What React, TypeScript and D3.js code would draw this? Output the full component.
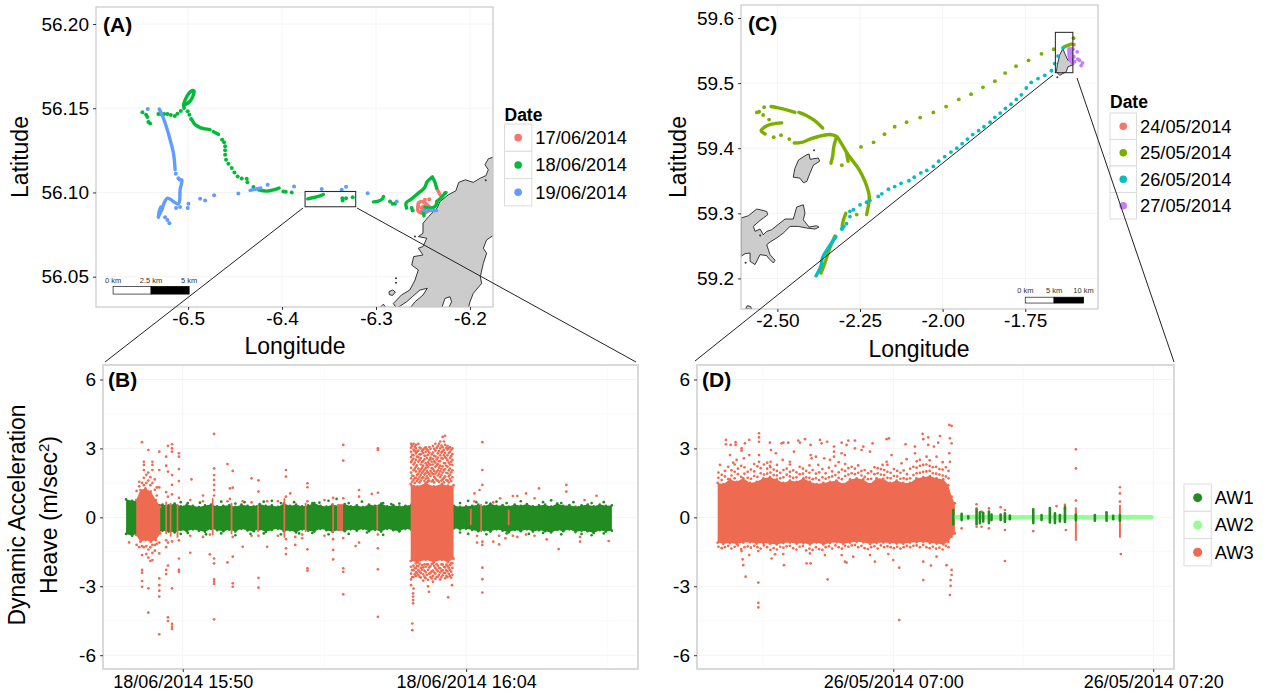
// Tracks and heave panels, D3 drawn through a ref
import React, { useEffect, useRef } from 'react'
import * as d3 from 'd3'

const FONT = '"Liberation Sans", Arial, sans-serif'

// ---- panel A: track of 17-19/06/2014, [lon, lat]
const datesA = ['17/06/2014', '18/06/2014', '19/06/2014']
const coloursA = ['#F8766D', '#00BA38', '#619CFF']
const runsA = [
  [
    [[-6.2355, 56.1026], [-6.2319, 56.0986]],
    [[-6.255, 56.0937], [-6.255, 56.0887], [-6.2479, 56.0877], [-6.2426, 56.0907], [-6.2514, 56.0946], [-6.255, 56.0937]],
  ],
  [
    [[-6.505, 56.1516], [-6.5032, 56.1548], [-6.4996, 56.1585], [-6.495, 56.1605], [-6.4936, 56.1601], [-6.495, 56.1571], [-6.4982, 56.154], [-6.5032, 56.152]],
    [[-6.4961, 56.1433], [-6.4926, 56.1403], [-6.4872, 56.1385], [-6.4819, 56.1377], [-6.4766, 56.1373]],
    [[-6.473, 56.1361], [-6.4677, 56.1345]],
    [[-6.4252, 56.1016], [-6.4163, 56.1008], [-6.4085, 56.1016], [-6.4032, 56.1026]],
    [[-6.3727, 56.0962], [-6.366, 56.097], [-6.3596, 56.098], [-6.356, 56.0988]],
    [[-6.3028, 56.0944], [-6.2975, 56.0948], [-6.2929, 56.0964], [-6.2922, 56.0976]],
    [[-6.2674, 56.0907], [-6.2681, 56.0937], [-6.2621, 56.0962], [-6.255, 56.0996], [-6.2486, 56.1026], [-6.2454, 56.1065], [-6.2401, 56.1091]],
    [[-6.2355, 56.0946], [-6.2312, 56.0966], [-6.2255, 56.1]],
    [[-6.2479, 56.0913], [-6.2426, 56.0907], [-6.2372, 56.0917], [-6.2348, 56.0946]],
    [[-6.2497, 56.0887], [-6.2489, 56.0861]],
    [[-6.2401, 56.1091], [-6.2372, 56.106], [-6.2355, 56.1026]],
  ],
  [
    [[-6.5308, 56.1496], [-6.527, 56.1452], [-6.5227, 56.1383], [-6.5191, 56.1313], [-6.5156, 56.1234], [-6.5138, 56.1135]],
    [[-6.5092, 56.1075], [-6.5067, 56.1075], [-6.5085, 56.1016], [-6.5103, 56.0933], [-6.522, 56.0966], [-6.5255, 56.0937], [-6.528, 56.0897], [-6.5316, 56.0857]],
    [[-6.5291, 56.0913], [-6.5305, 56.0893], [-6.5316, 56.0853]],
    [[-6.434, 56.1012], [-6.428, 56.102], [-6.4227, 56.1026]],
    [[-6.2497, 56.0893], [-6.2355, 56.0893]],
  ],
]
const pointsA = [
  [[-6.2479, 56.0956], [-6.2433, 56.096], [-6.255, 56.0917], [-6.2514, 56.0907], [-6.2479, 56.0897], [-6.2426, 56.0897], [-6.2514, 56.0887], [-6.2497, 56.0917]],
  [
    [-6.5486, 56.1476], [-6.5447, 56.1462], [-6.5433, 56.1448], [-6.5422, 56.1419], [-6.5404, 56.1409],
    [-6.5316, 56.1466], [-6.5287, 56.1464], [-6.5255, 56.1466], [-6.522, 56.1466], [-6.5184, 56.146],
    [-6.5142, 56.1454], [-6.5113, 56.1468], [-6.5078, 56.1484], [-6.5043, 56.1502], [-6.5004, 56.1482],
    [-6.4986, 56.1462], [-6.4968, 56.1436], [-6.4638, 56.1313], [-6.4617, 56.1298], [-6.4606, 56.1274],
    [-6.4606, 56.125], [-6.4606, 56.1224], [-6.4596, 56.1194], [-6.4571, 56.1171], [-6.4535, 56.1145],
    [-6.4507, 56.1119], [-6.4472, 56.1095], [-6.4429, 56.1083], [-6.4376, 56.1081], [-6.4369, 56.106],
    [-6.4305, 56.1032], [-6.3986, 56.1006], [-6.3961, 56.1004], [-6.3897, 56.1], [-6.3358, 56.0966],
    [-6.3355, 56.0952], [-6.3319, 56.0966], [-6.3248, 56.0972], [-6.2851, 56.0946], [-6.2823, 56.0933],
    [-6.2798, 56.0933], [-6.2621, 56.0907], [-6.261, 56.0893], [-6.2266, 56.0996],
  ],
  [
    [-6.5429, 56.1496], [-6.5131, 56.1111], [-6.5103, 56.1085], [-6.5128, 56.0907], [-6.5085, 56.0913],
    [-6.5004, 56.0907], [-6.4996, 56.0933], [-6.4872, 56.0962], [-6.4819, 56.0952], [-6.4723, 56.0984],
    [-6.4465, 56.0994], [-6.4153, 56.1046], [-6.3872, 56.1036], [-6.3578, 56.102], [-6.3365, 56.1016],
    [-6.3319, 56.1034], [-6.3089, 56.0996], [-6.278, 56.0946], [-6.5245, 56.0853], [-6.522, 56.0837], [-6.5199, 56.0817],
  ],
]
const landA = [
  [-6.175, 56.121], [-6.1805, 56.12], [-6.184, 56.1165], [-6.1805, 56.1135], [-6.183, 56.11], [-6.189, 56.1085],
  [-6.1965, 56.106], [-6.205, 56.1075], [-6.212, 56.106], [-6.215, 56.101], [-6.223, 56.0986], [-6.232, 56.0946],
  [-6.235, 56.0907], [-6.244, 56.0857], [-6.25, 56.0817], [-6.25, 56.0758], [-6.255, 56.0738], [-6.246, 56.0728],
  [-6.25, 56.0679], [-6.255, 56.0669], [-6.25, 56.0629], [-6.26, 56.0619], [-6.262, 56.0569], [-6.255, 56.054],
  [-6.2585, 56.048], [-6.264, 56.0421], [-6.273, 56.0391], [-6.2816, 56.0341], [-6.278, 56.0312], [-6.2674, 56.0351],
  [-6.2532, 56.0421], [-6.2454, 56.0431], [-6.25, 56.0391], [-6.2585, 56.0351], [-6.264, 56.0312], [-6.2302, 56.0312],
  [-6.2266, 56.0371], [-6.2213, 56.0381], [-6.2195, 56.0351], [-6.223, 56.0312], [-6.2018, 56.0312], [-6.2, 56.0351],
  [-6.1965, 56.0401], [-6.1876, 56.046], [-6.189, 56.05], [-6.1858, 56.0579], [-6.1823, 56.0639], [-6.1858, 56.0669],
  [-6.1823, 56.0718], [-6.1745, 56.0748],
]
const isletsA = [
  [[-6.2862, 56.0411], [-6.2823, 56.0421], [-6.2794, 56.0409], [-6.2823, 56.0389], [-6.2858, 56.0393]],
  [[-6.295, 56.0321], [-6.2922, 56.0337], [-6.2901, 56.0321], [-6.2922, 56.031]],
]
const rocksA = [[-6.2787, 56.049], [-6.2787, 56.0464], [-6.2585, 56.0738], [-6.1833, 56.1073]]
const boxA = [[-6.3755, 56.1006], [-6.3216, 56.0915]]
const scaleA = { lons: [-6.5798, -6.5394, -6.4989], lat: 56.0419, labels: ['0 km', '2.5 km', '5 km'] }

// ---- panel C: track of 24-27/05/2014, [lon, lat]
const datesC = ['24/05/2014', '25/05/2014', '26/05/2014', '27/05/2014']
const coloursC = ['#F8766D', '#7CAE00', '#00BFC4', '#C77CFF']
const runsC = [
  [],
  [
    [[-2.519, 59.464], [-2.497, 59.462], [-2.472, 59.459], [-2.447, 59.455]],
    [[-2.435, 59.455], [-2.411, 59.45], [-2.386, 59.442], [-2.363, 59.431]],
    [[-2.449, 59.408], [-2.426, 59.409], [-2.401, 59.414], [-2.376, 59.418], [-2.341, 59.421], [-2.321, 59.418], [-2.306, 59.407], [-2.286, 59.39], [-2.255, 59.369], [-2.235, 59.349], [-2.222, 59.326], [-2.225, 59.311], [-2.23, 59.298]],
    [[-2.321, 59.417], [-2.329, 59.403], [-2.333, 59.387], [-2.338, 59.377]],
    [[-2.487, 59.439], [-2.517, 59.437], [-2.537, 59.433], [-2.549, 59.427], [-2.537, 59.422]],
    [[-2.291, 59.393], [-2.286, 59.38]],
    [[-2.326, 59.265], [-2.341, 59.247], [-2.356, 59.224], [-2.368, 59.208]],
    [[-2.293, 59.3], [-2.301, 59.288], [-2.304, 59.28]],
    [[-1.631, 59.556], [-1.611, 59.56]],
  ],
  [
    [[-2.306, 59.276], [-2.298, 59.28]],
    [[-2.323, 59.264], [-2.346, 59.247], [-2.364, 59.231], [-2.368, 59.219], [-2.383, 59.204]],
  ],
  [
    [[-1.618, 59.553], [-1.616, 59.538], [-1.606, 59.53]],
    [[-1.611, 59.553], [-1.609, 59.5405]],
  ],
]
const pointsC = [
  [[-1.603, 59.559]],
  [
    [-2.562, 59.455], [-2.555, 59.456], [-2.54, 59.463], [-2.543, 59.451], [-2.525, 59.444], [-2.511, 59.417],
    [-2.489, 59.42], [-2.464, 59.414], [-2.247, 59.402], [-2.209, 59.409], [-2.176, 59.4215], [-2.145, 59.433],
    [-2.109, 59.44], [-2.068, 59.447], [-2.028, 59.455], [-1.9895, 59.464], [-1.951, 59.475], [-1.914, 59.483],
    [-1.878, 59.4935], [-1.842, 59.503], [-1.811, 59.5155], [-1.778, 59.526], [-1.74, 59.535], [-1.701, 59.545],
    [-1.664, 59.552], [-2.305, 59.374], [-2.26, 59.298], [-1.604, 59.569],
  ],
  [
    [-1.671, 59.519], [-1.691, 59.512], [-1.7115, 59.507], [-1.732, 59.501], [-1.747, 59.4925], [-1.762, 59.482],
    [-1.777, 59.475], [-1.793, 59.4675], [-1.81, 59.461], [-1.826, 59.454], [-1.842, 59.4475], [-1.8565, 59.44],
    [-1.875, 59.433], [-1.891, 59.427], [-1.909, 59.421], [-1.925, 59.414], [-1.941, 59.407], [-1.957, 59.4],
    [-1.975, 59.394], [-1.9935, 59.387], [-2.012, 59.38], [-2.028, 59.372], [-2.048, 59.366], [-2.066, 59.362],
    [-2.086, 59.3555], [-2.102, 59.35], [-2.126, 59.346], [-2.145, 59.341], [-2.164, 59.337], [-2.184, 59.33],
    [-2.195, 59.326], [-2.22, 59.32], [-2.23, 59.317], [-2.25, 59.313], [-2.27, 59.3055], [-2.2805, 59.303],
    [-2.2805, 59.295], [-2.291, 59.284], [-2.304, 59.276], [-1.661, 59.53], [-1.651, 59.5415], [-1.636, 59.554],
  ],
  [
    [-1.606, 59.552], [-1.593, 59.548], [-1.603, 59.5405], [-1.591, 59.537], [-1.586, 59.535], [-1.577, 59.531],
    [-1.581, 59.527], [-1.601, 59.533], [-1.613, 59.548],
  ],
]
const landC = [
  [
    [-1.636, 59.553], [-1.631, 59.546], [-1.621, 59.535], [-1.606, 59.5405], [-1.606, 59.528], [-1.621, 59.525],
    [-1.626, 59.5175], [-1.646, 59.512], [-1.656, 59.5175], [-1.653, 59.528], [-1.646, 59.543],
  ],
  [
    [-2.436, 59.382], [-2.411, 59.39], [-2.404, 59.391], [-2.401, 59.383], [-2.376, 59.385], [-2.372, 59.38],
    [-2.391, 59.374], [-2.401, 59.362], [-2.411, 59.349], [-2.421, 59.347], [-2.432, 59.354], [-2.452, 59.3555],
    [-2.447, 59.369],
  ],
  [
    [-2.61, 59.2927], [-2.5876, 59.2963], [-2.5624, 59.3065], [-2.5524, 59.3055], [-2.5322, 59.3029], [-2.5292, 59.2978],
    [-2.5423, 59.2927], [-2.5524, 59.2891], [-2.5725, 59.2799], [-2.5675, 59.2723], [-2.5524, 59.2758], [-2.5423, 59.2671],
    [-2.5322, 59.2723], [-2.5171, 59.2748], [-2.4768, 59.2912], [-2.4517, 59.2912], [-2.4416, 59.3096], [-2.4215, 59.3131],
    [-2.4164, 59.3004], [-2.4215, 59.2901], [-2.4043, 59.2789], [-2.3812, 59.2809], [-2.3741, 59.2789], [-2.3862, 59.2758],
    [-2.4114, 59.2774], [-2.4366, 59.2799], [-2.4617, 59.2799], [-2.4819, 59.2697], [-2.502, 59.262], [-2.5191, 59.2569],
    [-2.5322, 59.2518], [-2.5222, 59.2365], [-2.507, 59.2278], [-2.5121, 59.2237], [-2.5272, 59.2314], [-2.5322, 59.235],
    [-2.5524, 59.2365], [-2.5675, 59.2212], [-2.5826, 59.2263], [-2.5826, 59.239], [-2.5977, 59.238], [-2.61, 59.2339],
  ],
  [[-2.596, 59.153], [-2.591, 59.158], [-2.581, 59.157], [-2.578, 59.153]],
]
const rocksC = [[-2.389, 59.397], [-2.596, 59.224], [-2.552, 59.266], [-1.653, 59.509]]
const boxC = [[-1.659, 59.578], [-1.606, 59.516]]
const scaleC = { lons: [-1.75, -1.663, -1.574], lat: 59.1666, labels: ['0 km', '5 km', '10 km'] }

// ---- panel B: heave on 18/06/2014, time in minutes of the day
const tickTimesB = [950, 964]
const tickLabelsB = ['18/06/2014 15:50', '18/06/2014 16:04']
const minorTimesB = [957, 971]
const heaveTicks = [-6, -3, 0, 3, 6]
const heaveMinor = [-4.5, -1.5, 1.5, 4.5]
const aw1StartB = 947.2
const aw1StepB = 0.3
const aw1UpperB = [
  0.78, 0.72, 0.7, 0.62, 0.58, 0.6, 0.55, 0.52, 0.6, 0.48,
  0.55, 0.5, 0.45, 0.52, 0.56, 0.48, 0.5, 0.53, 0.46, 0.55,
  0.5, 0.48, 0.58, 0.5, 0.52, 0.46, 0.6, 0.5, 0.55, 0.48,
  0.52, 0.62, 0.5, 0.47, 0.55, 0.5, 0.58, 0.48, 0.52, 0.45,
  0.56, 0.5, 0.6, 0.48, 0.53, 0.47, 0.5, 0.55, 0.48, 0.52,
  0.45, 0.45, 0.48, 0.44, 0.5, 0.46, 0.48, 0.5, 0.55, 0.48,
  0.6, 0.5, 0.53, 0.47, 0.56, 0.5, 0.58, 0.48, 0.52, 0.55,
  0.47, 0.6, 0.5, 0.53, 0.46, 0.52, 0.55, 0.48, 0.56, 0.5, 0.52,
]
const aw1LowerB = [
  -0.72, -0.8, -0.68, -0.62, -0.6, -0.7, -0.58, -0.62, -0.66, -0.55,
  -0.6, -0.52, -0.58, -0.63, -0.5, -0.56, -0.6, -0.54, -0.62, -0.5,
  -0.57, -0.6, -0.52, -0.64, -0.55, -0.5, -0.6, -0.56, -0.66, -0.52,
  -0.58, -0.62, -0.5, -0.56, -0.63, -0.55, -0.6, -0.52, -0.58, -0.5,
  -0.6, -0.54, -0.62, -0.5, -0.56, -0.6, -0.5, -0.55, -0.48, -0.52,
  -0.48, -0.5, -0.46, -0.5, -0.48, -0.52, -0.5, -0.55, -0.6, -0.56,
  -0.62, -0.52, -0.58, -0.65, -0.55, -0.6, -0.52, -0.62, -0.56, -0.6,
  -0.66, -0.55, -0.6, -0.52, -0.64, -0.58, -0.6, -0.68, -0.56, -0.62, -0.58,
]
// AW1 points just off the band in B
const aw1StripsB = [
  [949.9, [0.66, -0.72]], [950.25, [0.62, -0.68]], [950.85, [0.64]], [951.15, [-0.74]], [951.9, [0.68, -0.7]], [952.6, [0.6, -0.78]],
  [953.05, [0.66]], [953.35, [-0.72]], [954.0, [0.68, -0.7]], [954.4, [0.72]], [954.85, [-0.74, 0.62]], [955.5, [0.66]],
  [955.75, [-0.7]], [956.4, [0.62, -0.68]], [956.75, [0.64]], [957.2, [0.72, -0.74]], [957.6, [0.8]], [958.2, [0.62, -0.72]],
  [958.85, [0.68]], [959.1, [-0.66]], [959.9, [0.62, -0.76]], [960.3, [0.58]], [960.7, [0.6, -0.6]], [963.7, [0.62, -0.66]],
  [964.1, [0.72, -0.72]], [964.5, [0.66]], [965.0, [-0.74, 0.64]], [965.5, [0.68]], [966.0, [0.62, -0.7]], [966.7, [0.7]],
  [967.1, [-0.72]], [967.8, [0.66, -0.68]], [968.2, [0.74]], [968.7, [0.62, -0.74]], [969.3, [0.66]], [969.7, [-0.72]],
  [970.2, [0.62, -0.78]], [970.8, [0.66, -0.7]],
]
// AW3 bursts in B as [t, top, bottom]
const aw3ColumnsB = [
  [949.18, 0.65, -0.7], [949.4, 0.6, -0.8], [949.74, 0.55, -0.85], [951.48, 0.8, -0.75], [952.41, 0.6, -0.7],
  [953.72, 0.5, -0.6], [955.02, 0.8, -0.85], [956.07, 0.6, -0.6], [957.43, 0.55, -0.65], [957.67, 0.55, -0.55],
  [957.77, 0.55, -0.55], [957.87, 0.55, -0.55], [959.61, 0.5, -0.5], [964.74, 0.55, -0.6], [964.23, 0.35, -0.3], [966.1, 0.3, -0.3],
]
const aw3CoreOneB = [
  [947.7, 0.75, -0.77], [947.91, 1.19, -1.06], [948.16, 1.26, -0.99], [948.42, 1.12, -1.06], [948.67, 0.75, -0.99], [948.89, 0.46, -0.7],
]
const aw3CoreTwoB = [
  [961.26, 1.45, -1.9], [961.6, 1.35, -1.95], [962, 1.48, -1.85], [962.4, 1.35, -1.95], [962.8, 1.45, -1.85], [963.1, 1.38, -1.95], [963.38, 1.4, -1.8],
]
const aw3StripsB = [
  [947.35, [-1.09]],
  [947.72, [1.15, -1.2]],
  [947.85, [1.55, 1.35, -1.3]],
  [947.99, [3.27, -1.64, -2.29, -2.41, -2.77, -3.02, 1.5, -1.25]],
  [948.08, [2.42, 2.28, 2.06, 1.72, 1.4, -1.3]],
  [948.2, [1.85, 1.5, -1.25, -1.6]],
  [948.3, [2.93, -3.09, -4.15, 1.95, 1.6, -1.4, -1.75]],
  [948.4, [1.75, 1.4, -1.3, -1.9]],
  [948.5, [2.42, 2.28, 2.06, -1.86, 1.5, -1.2, -1.55]],
  [948.62, [1.65, 1.2, -1.2, -1.45]],
  [948.72, [1.3, 0.95, -1.15]],
  [948.84, [2.86, 2.06, -1.57, -2.66, -2.95, -3.19, -3.45, -5.09, 1.3, -1.1]],
  [949.18, [2.64, 2.25, -2.29, -2.47, 1.1, -1.0, -1.3]],
  [949.27, [3.11, 1.99, -2.1, -4.35, -4.51, 0.9, -1.1]],
  [949.47, [3.18, 3, 2.86, 1.84, 1.41, -3.09, -4.64, -4.76, -4.86, 1.0, -1.05]],
  [949.81, [2.79, 2.64, 2.1, 1.58, -1.79, -2.29, -2.37, 0.85, -1.0]],
  [950.37, [-1.54, 0.75, -0.8]],
  [950.43, [1.65]],
  [951.0, [0.95, 0.7, -0.85]],
  [951.34, [-1.61, -0.75]],
  [951.55, [3.63, 2.13, 1.84, 1.63, 1.41, 1.19, -1.79, -2, -2.7, -2.8, -2.9, -4.44, 0.95]],
  [952.21, [2.32, -1.96, 0.7]],
  [952.33, [1.26, 0.8]],
  [952.47, [2.02, 1.29, -1.71, -2.87, -3.02, -0.85]],
  [952.96, [-1.28, 0.7]],
  [953.4, [1.7, 0.65, -0.8]],
  [953.74, [1.61, 1.12, -2.63, -3.06, -0.8]],
  [954.17, [-1.28, 0.7]],
  [954.7, [0.7, -0.8]],
  [955.1, [2.06, 1.77, -1.35, -1.6, 0.9, -0.95]],
  [955.31, [1.04]],
  [955.56, [-1.2, -0.85]],
  [955.9, [-0.91, -0.75]],
  [956.16, [1.48, 1.31, -1.39, -2.22, -2.32, 0.7]],
  [957.0, [0.75, -0.8]],
  [957.43, [-1.42, -1.83, 0.85, -0.95]],
  [957.93, [3.15, 2.47, 0.83, -2.22, -2.37, -3.35, -0.9]],
  [958.54, [-1.25]],
  [958.71, [1.19, 0.9, -1.1]],
  [959.34, [1.02]],
  [959.64, [3, 2.93, 1.07, -1.35, -2.26, -4.33, -0.75]],
  [961.34, [-4.62, -4.91]],
  [961.38, [-3.31, -3.45, -3.6, -3.74]],
  [962.16, [-3.24]],
  [963.11, [-3.48]],
  [963.3, [-2.95]],
  [964.41, [1.04, 0.7]],
  [964.54, [-1.1, -0.8]],
  [964.66, [1.19]],
  [964.8, [3.27, 2.06, 1.41, -1.06, -1.2, -2.19, -2.69, -3.27]],
  [965.34, [-1.06, 0.65]],
  [965.63, [-1.18, -0.8]],
  [965.68, [0.83]],
  [965.94, [-0.91]],
  [966.31, [0.93, -0.8]],
  [966.53, [0.93, -0.85]],
  [966.96, [1.04, -0.75]],
  [967.38, [0.83, -0.8]],
  [967.6, [1.26]],
  [967.98, [-0.96]],
  [968.57, [-1.38]],
  [968.95, [1.41, 1.12]],
  [969.63, [-1.06, -0.85]],
  [969.85, [0.75]],
  [970.44, [0.94]],
  [971.04, [-1.03]],
  // second burst, above and below its solid core
  [961.28, [3.2, 3.03, 2.85, 2.62, 2.4, 2.15, 1.95, 1.7, -2.15, -2.45, -2.7, -2.95]],
  [961.33, [3.12, 2.72, 2.48, 1.82, 1.55, -2.3, -2.6]],
  [961.4, [3.2, 2.95, 2.7, 2.55, 2.3, 2.05, 1.8, 1.62, -2.1, -2.3, -2.6, -3.1]],
  [961.46, [3.08, 2.88, 2.38, 2.12, 1.7, 1.5, -2.2, -2.48]],
  [961.52, [3.15, 3, 2.78, 2.5, 2.2, 2, 1.72, -2.0, -2.22, -2.38, -2.55]],
  [961.57, [2.86, 2.64, 2.26, 1.84, 1.58, -2.12, -2.42]],
  [961.64, [3.2, 2.9, 2.62, 2.42, 2.12, 1.9, 1.66, -2.12, -2.3, -2.5]],
  [961.7, [3.04, 2.74, 2.5, 2, 1.76, 1.52, -2.02, -2.36, -2.58]],
  [961.76, [3, 2.75, 2.58, 2.3, 2.08, 1.85, 1.6, -2.2, -2.42, -2.62]],
  [961.82, [2.88, 2.4, 2.16, 1.94, 1.7, -2.08, -2.28]],
  [961.88, [2.95, 2.8, 2.45, 2.25, 2, 1.75, -2.18, -2.48, -2.75]],
  [961.94, [3.0, 2.68, 2.52, 2.08, 1.86, 1.58, -2.05, -2.32, -2.58]],
  [962, [3.05, 2.85, 2.68, 2.35, 2.15, 1.92, 1.68, -2.15, -2.38, -2.65]],
  [962.06, [2.96, 2.58, 2.26, 2.02, 1.78, 1.52, -2.05, -2.5]],
  [962.12, [2.9, 2.72, 2.4, 2.18, 1.95, 1.7, 1.58, -2.05, -2.28, -2.72, -3]],
  [962.18, [3.06, 2.82, 2.5, 2.32, 1.88, 1.6, -2.18, -2.45]],
  [962.24, [2.98, 2.6, 2.52, 2.28, 2.02, 1.8, -2.12, -2.42, -2.6]],
  [962.3, [2.74, 2.42, 2.14, 1.94, 1.56, -2.02, -2.35, -2.66]],
  [962.36, [3.1, 2.82, 2.55, 2.3, 2.1, 1.88, 1.62, -2.02, -2.32, -2.55, -2.8]],
  [962.42, [2.98, 2.68, 2.44, 2.02, 1.76, 1.52, -2.12, -2.4]],
  [962.48, [3.2, 2.9, 2.65, 2.38, 2.2, 1.9, 1.7, -2.2, -2.45, -2.68]],
  [962.54, [3.02, 2.52, 2.26, 1.98, 1.62, -2.04, -2.28, -2.6]],
  [962.6, [3.1, 2.78, 2.6, 2.32, 2.05, 1.82, 1.6, -2.1, -2.35, -2.58]],
  [962.66, [3.2, 2.88, 2.44, 2.16, 1.9, 1.54, -2.2, -2.5]],
  [962.72, [3.3, 3, 2.7, 2.45, 2.25, 2, 1.75, -2.22, -2.4, -2.7]],
  [962.78, [3.12, 2.82, 2.58, 2.1, 1.84, 1.6, -2.05, -2.32, -2.6]],
  [962.84, [3.5, 3.05, 2.88, 2.55, 2.22, 1.95, 1.65, -2.05, -2.3, -2.52]],
  [962.9, [3.3, 2.94, 2.7, 2.36, 2.04, 1.72, 1.52, -2.15, -2.42]],
  [962.96, [3.55, 3.15, 2.8, 2.62, 2.35, 2.1, 1.78, -2.18, -2.42, -2.65]],
  [963.02, [3.02, 2.56, 2.24, 1.94, 1.62, -2.06, -2.3, -2.55]],
  [963.08, [3.1, 2.95, 2.7, 2.48, 2.2, 1.92, 1.6, -2.12, -2.35, -2.6]],
  [963.14, [3.0, 2.8, 2.38, 2.04, 1.78, 1.52, -2.2, -2.46]],
  [963.2, [3.05, 2.85, 2.58, 2.3, 2.12, 1.85, 1.68, -2.08, -2.28, -2.55]],
  [963.26, [2.94, 2.66, 2.42, 1.96, 1.58, -2.0, -2.36, -2.62]],
  [963.32, [3, 2.75, 2.5, 2.28, 2.05, 1.75, -2.0, -2.2, -2.5]],
]

// ---- panel D: heave on 26/05/2014, time in minutes of the day
const tickTimesD = [420, 440]
const tickLabelsD = ['26/05/2014 07:00', '26/05/2014 07:20']
const minorTimesD = [410, 430]
// AW3 solid band as [t, top, bottom]
const aw3BandD = [
  [406.49, 1.5, -1.1], [406.92, 1.45, -1.15], [407.44, 1.65, -1.12], [407.95, 1.55, -1.16], [408.46, 1.7, -1.1],
  [408.97, 1.5, -1.08], [409.49, 1.55, -1.14], [410, 1.7, -1.12], [410.51, 1.75, -1.15], [411.03, 1.65, -1.18],
  [411.54, 1.5, -1.12], [412.05, 1.6, -1.1], [412.56, 1.55, -1.15], [413.08, 1.7, -1.12], [413.59, 1.55, -1.18],
  [414.1, 1.45, -1.1], [414.62, 1.5, -1.18], [415.13, 1.55, -1.12], [415.64, 1.6, -1.08], [416.15, 1.45, -1.15],
  [416.67, 1.65, -1.1], [417.18, 1.7, -1.06], [417.69, 1.65, -1.08], [418.21, 1.45, -1.16], [418.72, 1.7, -1.12],
  [419.23, 1.68, -1.1], [419.74, 1.5, -1.12], [420.26, 1.6, -1.14], [420.77, 1.5, -1.15], [421.28, 1.5, -1.1],
  [421.79, 1.7, -1.08], [422.31, 1.75, -1.06], [422.82, 1.8, -1.12], [423.33, 1.7, -1.14], [423.85, 1.65, -1.18],
  [424.23, 1.4, -1.06], [424.49, 0.9, -0.84], [424.74, 0.61, -0.7],
]
// speckle just off that band
const aw3FringeD = [
  [406.55, [1.72, 1.95, -1.28]], [406.8, [1.62, 1.85, -1.34]], [407.05, [1.78, 2.02, -1.3]], [407.3, [1.66, 2.2, -1.24]],
  [407.55, [1.82, 2.05, -1.36]], [407.8, [1.7, 1.98, 2.3, -1.28]], [408.05, [1.88, 2.12, -1.22]], [408.3, [1.76, 2.24, -1.38]],
  [408.55, [1.9, 2.18, -1.3]], [408.8, [1.72, 1.98, -1.26]], [409.05, [1.68, 2.08, -1.32]], [409.3, [1.8, 2.0, 2.32, -1.24]],
  [409.55, [1.76, 2.22, -1.3]], [409.8, [1.92, 2.14, -1.36]], [410.05, [1.86, 2.3, -1.22]], [410.3, [1.9, 2.12, 2.38, -1.3]],
  [410.55, [1.95, 2.18, -1.42]], [410.8, [1.84, 2.08, -1.34]], [411.05, [1.82, 2.02, 2.28, -1.4]], [411.3, [1.7, 1.94, -1.28]],
  [411.55, [1.74, 2.06, -1.32]], [411.8, [1.86, 2.12, -1.26]], [412.05, [1.78, 1.98, 2.3, -1.24]], [412.3, [1.72, 2.04, -1.34]],
  [412.55, [1.74, 1.96, -1.4]], [412.8, [1.88, 2.2, -1.28]], [413.05, [1.9, 2.12, -1.24]], [413.3, [1.74, 2.02, -1.44]],
  [413.55, [1.72, 1.94, 2.26, -1.36]], [413.8, [1.66, 2.06, -1.42]], [414.05, [1.7, 1.9, -1.3]], [414.3, [1.62, 1.96, -1.38]],
  [414.55, [1.74, 2.1, -1.42]], [414.8, [1.68, 1.92, -1.3]], [415.05, [1.74, 2.16, -1.26]], [415.3, [1.78, 2.0, -1.36]],
  [415.55, [1.84, 2.24, -1.22]], [415.8, [1.72, 1.96, 2.4, -1.3]], [416.05, [1.66, 2.08, -1.36]], [416.3, [1.8, 2.02, 2.32, -1.24]],
  [416.55, [1.86, 2.14, -1.28]], [416.8, [1.92, 2.2, -1.22]], [417.05, [1.88, 2.12, -1.2]], [417.3, [1.94, 2.26, -1.3]],
  [417.55, [1.82, 2.02, -1.24]], [417.8, [1.76, 2.06, -1.34]], [418.05, [1.66, 1.92, -1.38]], [418.3, [1.68, 2.0, -1.3]],
  [418.55, [1.88, 2.18, -1.26]], [418.8, [1.92, 2.14, -1.36]], [419.05, [1.86, 2.1, -1.22]], [419.3, [1.84, 2.06, -1.3]],
  [419.55, [1.72, 1.98, 2.28, -1.26]], [419.8, [1.7, 1.94, -1.3]], [420.05, [1.8, 2.1, -1.34]], [420.3, [1.78, 2.02, -1.28]],
  [420.55, [1.68, 1.94, -1.36]], [420.8, [1.7, 2.04, -1.3]], [421.05, [1.66, 1.88, -1.24]], [421.3, [1.7, 2.12, -1.3]],
  [421.55, [1.84, 2.2, -1.24]], [421.8, [1.92, 2.16, 2.44, -1.22]], [422.05, [1.94, 2.24, 2.5, -1.3]], [422.3, [1.98, 2.28, -1.2]],
  [422.55, [2.0, 2.3, -1.3]], [422.8, [2.02, 2.24, 2.48, -1.34]], [423.05, [1.92, 2.18, -1.28]], [423.3, [1.9, 2.2, -1.36]],
  [423.55, [1.86, 2.1, -1.32]], [423.8, [1.82, 2.08, 2.4, -1.4]], [424.05, [1.78, 2.18, -1.24]], [424.25, [1.7, 2.02, -1.3]],
]
const aw3StripsD = [
  [406.67, [2.28]], [407.13, [3.37, 3.18]], [407.44, [2.71]], [407.49, [3.15]], [407.69, [2.38]], [407.87, [3.27, 3.15]],
  [407.95, [2.5]], [408.33, [3, 2.9, -1.47]], [408.41, [-1.83]], [408.46, [-2.08]], [408.51, [2.57]], [408.59, [3.22]],
  [408.64, [-2.58]], [408.92, [3.37, 2.71, -1.64]], [409.62, [-1.47, -2.84, -3.72, -3.92]], [409.67, [3.66, 3.48, 3.29, 2.71, 2.42]],
  [410.51, [3.25, 2.24]], [410.56, [2.42]], [410.59, [2.93]], [410.64, [-1.79]], [410.9, [-1.61]], [410.97, [2.79]],
  [411.41, [3.22]], [411.49, [2.5]], [411.54, [3.25, -1.6]], [411.59, [-2.08]], [411.92, [3.25]], [412.05, [2.42]],
  [412.36, [2.86]], [412.69, [3.34]], [412.82, [3.25]], [413.21, [3.4]], [413.33, [-2]], [413.59, [-1.57]],
  [413.64, [3.15, 2.71, -2]], [413.72, [2.57]], [414.05, [2.64]], [414.23, [2.28]], [414.36, [3.37]], [414.49, [3.22]],
  [414.69, [2.57]], [414.74, [-1.64]], [414.92, [3.29]], [414.95, [-2.7]], [415.13, [2.5]], [415.44, [3.08, 2.86, 2.64]],
  [416.03, [3.25, 2.79, -1.64]], [416.28, [2.71, -1.93]], [416.41, [3.15, -1.97]], [416.54, [3.34]], [416.92, [-1.71]],
  [417.05, [3.34, 3]], [417.56, [2.93]], [417.69, [3.08]], [418.21, [2.86, -1.64]], [418.41, [3.22]], [418.59, [-1.93]],
  [419.18, [2.28]], [419.49, [3.4, 2.42]], [419.62, [-1.6]], [419.67, [3.44]], [419.87, [2.71]], [420, [-1.86]],
  [420.46, [-2.19, -4.47]], [420.64, [2.35]], [420.95, [3.18]], [421.03, [2.53]], [421.67, [3.08, 2.79]], [422.26, [3.63]],
  [422.31, [3.4, -1.93, -2.73]], [422.56, [2.64]], [422.69, [3.48, 3.15]], [422.9, [-2.1]], [423.13, [3.08]], [423.33, [2.64, -1.71]],
  [423.46, [3.25]], [423.59, [3.54]], [424.1, [-2.08]], [424.31, [4.02, 2.79]], [424.36, [3.44, 2.42, -3.38]],
  [424.41, [-2.73, -2.98]], [424.49, [3.98, 3.22, -2.29, -2.51]],
  [425.26, [-0.48]], [426.41, [0.57, 0.39, -0.41]], [426.79, [0.25, -0.41]], [427.36, [0.39, -0.48]], [428.26, [0.44]],
  [428.59, [0.32, -0.55, -1.9]], [430.77, [-0.6]], [432.56, [0.49]], [433.21, [0.54, 0.39]], [433.28, [-0.55]],
  [434.05, [2.96, 2.13, 0.73]], [437.44, [1.31, 1.04, 0.68]], [437.51, [-1.6]],
]
const aw3ColumnsD = [[434.05, 0.4, -0.99], [437.44, 0.5, -0.85]]
const aw2LineD = [[424.7, 0.01], [427, 0.02], [429, -0.01], [431, 0], [433, 0.02], [435, -0.01], [437, 0.01], [439.87, 0]]
const aw1ColumnsD = [
  [424.62, 0.32, -0.3], [425.26, 0.15, -0.12], [425.77, 0.05, -0.05], [426.41, 0.33, -0.3], [426.67, 0.22, -0.25],
  [426.92, 0.2, -0.18], [427.36, 0.25, -0.25], [427.56, 0.12, -0.12], [428.26, 0.12, -0.12], [428.59, 0.18, -0.2],
  [428.97, 0.08, -0.08], [430.77, 0.35, -0.25], [431.41, 0.1, -0.12], [432.05, 0.4, -0.22], [432.44, 0.18, -0.25],
  [432.82, 0.1, -0.18], [433.21, 0.45, -0.2], [434.05, 0.12, -0.12], [435.51, 0.1, -0.15], [436.41, 0.22, -0.15],
  [436.92, 0.07, -0.08], [437.44, 0.1, -0.15],
]

const heaveNames = ['AW1', 'AW2', 'AW3']
const heaveColours = ['#228B22', '#98FB98', '#EE6A50']

const lonTicksA = [-6.5, -6.4, -6.3, -6.2]
const latTicksA = [56.05, 56.1, 56.15, 56.2]
const lonTicksC = [-2.5, -2.25, -2, -1.75]
const latTicksC = [59.2, 59.3, 59.4, 59.5, 59.6]

function styleAxis(g, fontSize) {
  g.selectAll('.domain').remove()
  g.selectAll('.tick line').attr('stroke', '#333').attr('stroke-width', 1)
  g.selectAll('.tick text').attr('fill', '#000').attr('font-family', FONT).attr('font-size', fontSize)
}

function drawFrame(svg, box, x, y, xMajor, yMajor, xMinor, yMinor, id) {
  svg.append('rect').attr('x', box.l).attr('y', box.t).attr('width', box.r - box.l).attr('height', box.b - box.t).attr('fill', '#fff')
  svg.append('clipPath').attr('id', id).append('rect').attr('x', box.l).attr('y', box.t).attr('width', box.r - box.l).attr('height', box.b - box.t)
  const grid = svg.append('g')
  const vertical = (list, colour) => list.forEach((v) => {
    grid.append('line').attr('x1', x(v)).attr('x2', x(v)).attr('y1', box.t).attr('y2', box.b).attr('stroke', colour)
  })
  const horizontal = (list, colour) => list.forEach((v) => {
    grid.append('line').attr('x1', box.l).attr('x2', box.r).attr('y1', y(v)).attr('y2', y(v)).attr('stroke', colour)
  })
  vertical(xMinor, '#fafafa')
  horizontal(yMinor, '#fafafa')
  vertical(xMajor, '#f4f4f4')
  horizontal(yMajor, '#f4f4f4')
  return svg.append('g').attr('clip-path', `url(#${id})`)
}

function drawBorder(svg, box, colour, width) {
  svg.append('rect').attr('x', box.l).attr('y', box.t).attr('width', box.r - box.l).attr('height', box.b - box.t)
    .attr('fill', 'none').attr('stroke', colour).attr('stroke-width', width)
}

function drawLegend(svg, title, names, colours, x, y, size, titleGap, dotR) {
  if (title) {
    svg.append('text').attr('x', x).attr('y', y - titleGap).attr('font-family', FONT).attr('font-weight', 'bold').attr('font-size', 17.5).text(title)
  }
  names.forEach((name, i) => {
    svg.append('rect').attr('x', x).attr('y', y + i * size).attr('width', size).attr('height', size)
      .attr('fill', '#fff').attr('stroke', '#dcdcdc').attr('stroke-width', 1)
    svg.append('circle').attr('cx', x + size / 2).attr('cy', y + i * size + size / 2).attr('r', dotR).attr('fill', colours[i])
    svg.append('text').attr('x', x + size + 3.5).attr('y', y + i * size + size / 2 + 6.5).attr('font-family', FONT).attr('font-size', 18.3).text(name)
  })
}

function drawMap(svg, cfg) {
  const { box, id } = cfg
  const x = d3.scaleLinear().domain(cfg.lonDomain).range([box.l, box.r])
  const y = d3.scaleLinear().domain(cfg.latDomain).range([box.b, box.t])
  const plot = drawFrame(svg, box, x, y, cfg.lonTicks, cfg.latTicks, [], [], id)
  const line = d3.line().x((d) => x(d[0])).y((d) => y(d[1]))
  const track = d3.line().x((d) => x(d[0])).y((d) => y(d[1])).curve(d3.curveCatmullRom)

  cfg.land.forEach((ring) => {
    plot.append('path').attr('d', line(ring) + 'Z').attr('fill', '#cccccc').attr('stroke', '#222').attr('stroke-width', 0.9)
  })
  cfg.rocks.forEach((d) => {
    plot.append('circle').attr('cx', x(d[0])).attr('cy', y(d[1])).attr('r', 1).attr('fill', '#333')
  })
  cfg.colours.forEach((colour, i) => {
    cfg.runs[i].forEach((run) => {
      plot.append('path').attr('d', track(run)).attr('fill', 'none').attr('stroke', colour)
        .attr('stroke-width', 3.4).attr('stroke-linecap', 'round').attr('stroke-linejoin', 'round')
    })
    cfg.points[i].forEach((d) => {
      plot.append('circle').attr('cx', x(d[0])).attr('cy', y(d[1])).attr('r', cfg.dot).attr('fill', colour)
    })
  })

  // inset box that panels B and D zoom into
  const [[x0, y0], [x1, y1]] = cfg.zoomBox
  plot.append('rect').attr('x', x(x0)).attr('y', y(y0)).attr('width', x(x1) - x(x0)).attr('height', y(y1) - y(y0))
    .attr('fill', 'none').attr('stroke', '#222').attr('stroke-width', 1)

  // scale bar
  const s = cfg.scaleBar
  plot.append('rect').attr('x', x(s.lons[0])).attr('y', y(s.lat) - s.h / 2).attr('width', x(s.lons[1]) - x(s.lons[0])).attr('height', s.h)
    .attr('fill', '#fff').attr('stroke', '#333').attr('stroke-width', 0.8)
  plot.append('rect').attr('x', x(s.lons[1])).attr('y', y(s.lat) - s.h / 2).attr('width', x(s.lons[2]) - x(s.lons[1])).attr('height', s.h)
    .attr('fill', '#000').attr('stroke', '#000').attr('stroke-width', 0.8)
  s.lons.forEach((lon, i) => {
    plot.append('text').attr('x', x(lon)).attr('y', y(s.lat) - s.h / 2 - 4).attr('text-anchor', 'middle')
      .attr('font-family', FONT).attr('font-size', 7.5).attr('fill', '#333').text(s.labels[i])
  })

  drawBorder(svg, box, '#c9c9c9', 1.2)

  svg.append('g').attr('transform', `translate(0,${box.b})`)
    .call(d3.axisBottom(x).tickValues(cfg.lonTicks).tickFormat(d3.format(cfg.lonFormat)).tickSize(3).tickPadding(2))
    .call(styleAxis, 19)
    .selectAll('.tick text').text((d) => d3.format(cfg.lonFormat)(d).replace('\u2212', '-'))
  svg.append('g').attr('transform', `translate(${box.l},0)`)
    .call(d3.axisLeft(y).tickValues(cfg.latTicks).tickFormat(d3.format(cfg.latFormat)).tickSize(3).tickPadding(4))
    .call(styleAxis, 19)

  svg.append('text').attr('x', cfg.xTitle[0]).attr('y', cfg.xTitle[1]).attr('text-anchor', 'middle').attr('font-family', FONT).attr('font-size', 23).text('Longitude')
  svg.append('text').attr('transform', `translate(${cfg.yTitle[0]},${cfg.yTitle[1]}) rotate(-90)`).attr('text-anchor', 'middle').attr('font-family', FONT).attr('font-size', 23).text('Latitude')
  svg.append('text').attr('x', box.l + 7).attr('y', cfg.tagY).attr('font-family', FONT).attr('font-weight', 'bold').attr('font-size', 21).text(cfg.tag)
}

function drawHeave(svg, cfg) {
  const { box, id } = cfg
  const x = d3.scaleLinear().domain(cfg.timeDomain).range([box.l, box.r])
  const y = d3.scaleLinear().domain([-6.6, 6.63]).range([box.b, box.t])
  const plot = drawFrame(svg, box, x, y, cfg.ticks, heaveTicks, cfg.minor, heaveMinor, id)
  const band = d3.area().x((d) => x(d[0])).y0((d) => y(d[2])).y1((d) => y(d[1]))
  const [green, pale, red] = heaveColours
  const r = 1.35

  const bandDots = (rows, colour) => rows.forEach((d) => {
    plot.append('circle').attr('cx', x(d[0])).attr('cy', y(d[1])).attr('r', r).attr('fill', colour)
    plot.append('circle').attr('cx', x(d[0])).attr('cy', y(d[2])).attr('r', r).attr('fill', colour)
  })
  const columns = (rows, colour, width) => rows.forEach((d) => {
    plot.append('line').attr('x1', x(d[0])).attr('x2', x(d[0])).attr('y1', y(d[1])).attr('y2', y(d[2]))
      .attr('stroke', colour).attr('stroke-width', width).attr('stroke-linecap', 'round')
  })
  const strips = (rows, colour) => rows.forEach(([t, values]) => values.forEach((v) => {
    plot.append('circle').attr('cx', x(t)).attr('cy', y(v)).attr('r', r).attr('fill', colour)
  }))

  if (cfg.panel === 'B') {
    const rows = aw1UpperB.map((u, i) => [aw1StartB + i * aw1StepB, u, aw1LowerB[i]])
    plot.append('path').attr('d', band(rows)).attr('fill', green)
    bandDots(rows, green)
    strips(aw1StripsB, green)
    strips(aw3StripsB, red)
    columns(aw3ColumnsB, red, 1.8)
    plot.append('path').attr('d', band(aw3CoreOneB)).attr('fill', red)
    bandDots(aw3CoreOneB, red)
    plot.append('path').attr('d', band(aw3CoreTwoB)).attr('fill', red)
    bandDots(aw3CoreTwoB, red)
  } else {
    plot.append('path').attr('d', band(aw3BandD)).attr('fill', red)
    bandDots(aw3BandD, red)
    strips(aw3FringeD, red)
    strips(aw3StripsD, red)
    columns(aw3ColumnsD, red, 2)
    plot.append('path').attr('d', d3.line().x((d) => x(d[0])).y((d) => y(d[1]))(aw2LineD)).attr('fill', 'none')
      .attr('stroke', pale).attr('stroke-width', 4.5).attr('stroke-linecap', 'round')
    columns(aw1ColumnsD, green, 2.6)
  }

  drawBorder(svg, box, '#d9d9d9', 2)
  svg.append('g').attr('transform', `translate(0,${box.b})`)
    .call(d3.axisBottom(x).tickValues(cfg.ticks).tickFormat((d, i) => cfg.labels[i]).tickSize(3).tickPadding(3))
    .call(styleAxis, 18)
  svg.append('g').attr('transform', `translate(${box.l},0)`)
    .call(d3.axisLeft(y).tickValues(heaveTicks).tickFormat((d) => String(d)).tickSize(3).tickPadding(4))
    .call(styleAxis, 19)
  svg.append('text').attr('x', box.l + 5).attr('y', 387).attr('font-family', FONT).attr('font-weight', 'bold').attr('font-size', 21).text(cfg.tag)
}

export default function App() {
  const ref = useRef(null)

  useEffect(() => {
    const svg = d3.select(ref.current)
    svg.selectAll('*').remove()

    drawMap(svg, {
      id: 'clip-a', tag: '(A)', tagY: 32, dot: 2,
      box: { l: 96, r: 493, t: 7, b: 307 },
      lonDomain: [-6.598, -6.1755], latDomain: [56.032, 56.2101],
      lonTicks: lonTicksA, latTicks: latTicksA, lonFormat: '.1f', latFormat: '.2f',
      land: [landA, ...isletsA], rocks: rocksA, runs: runsA, points: pointsA, colours: coloursA,
      zoomBox: boxA, scaleBar: { ...scaleA, h: 7.5 },
      xTitle: [295, 354], yTitle: [28, 157],
    })
    drawMap(svg, {
      id: 'clip-c', tag: '(C)', tagY: 31, dot: 1.9,
      box: { l: 741, r: 1098, t: 5, b: 309 },
      lonDomain: [-2.61, -1.53], latDomain: [59.153, 59.62],
      lonTicks: lonTicksC, latTicks: latTicksC, lonFormat: '.2f', latFormat: '.1f',
      land: landC, rocks: rocksC, runs: runsC, points: pointsC, colours: coloursC,
      zoomBox: boxC, scaleBar: { ...scaleC, h: 5.8 },
      xTitle: [919, 357], yTitle: [686, 157],
    })
    drawLegend(svg, 'Date', datesA, coloursA, 504.5, 124, 27.3, 3, 3.8)
    drawLegend(svg, 'Date', datesC, coloursC, 1110, 113, 26.5, 5, 3.8)

    drawHeave(svg, {
      id: 'clip-b', panel: 'B', tag: '(B)',
      box: { l: 103, r: 638, t: 365, b: 669 },
      timeDomain: [946.06, 972.49], ticks: tickTimesB, labels: tickLabelsB, minor: minorTimesB,
    })
    drawHeave(svg, {
      id: 'clip-d', panel: 'D', tag: '(D)',
      box: { l: 697, r: 1174, t: 365, b: 669 },
      timeDomain: [404.9, 441.6], ticks: tickTimesD, labels: tickLabelsD, minor: minorTimesD,
    })
    drawLegend(svg, null, heaveNames, heaveColours, 1184, 484, 27.3, 0, 4.5)

    const yTitle = svg.append('text').attr('transform', 'translate(0,515) rotate(-90)').attr('text-anchor', 'middle')
      .attr('font-family', FONT).attr('font-size', 23)
    yTitle.append('tspan').attr('x', 0).attr('y', 25).text('Dynamic Acceleration')
    const second = svg.append('text').attr('transform', 'translate(0,515) rotate(-90)').attr('text-anchor', 'middle')
      .attr('font-family', FONT).attr('font-size', 23)
    second.append('tspan').attr('x', 0).attr('y', 57).text('Heave (m/sec')
    second.append('tspan').attr('dy', -8).attr('font-size', 15).text('2')
    second.append('tspan').attr('dy', 8).text(')')

    // zoom lines from the inset boxes down to panels B and D
    const callouts = [
      [303, 208, 105, 362], [357, 208, 636, 362],
      [1053, 75, 695, 361], [1077, 78, 1174, 362],
    ]
    callouts.forEach(([x1, y1, x2, y2]) => {
      svg.append('line').attr('x1', x1).attr('y1', y1).attr('x2', x2).attr('y2', y2).attr('stroke', '#222').attr('stroke-width', 1)
    })
  }, [])

  return <svg ref={ref} width={1267} height={699} style={{ position: 'absolute', left: 0, top: 0, background: '#fff' }} />
}
